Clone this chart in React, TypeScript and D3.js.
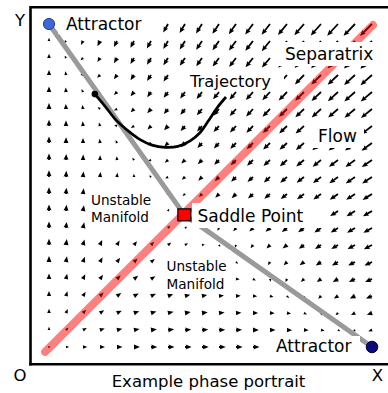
import React from "react";
import * as d3 from "d3";

// ---- data ----
// Competitive Lotka-Volterra system: x' = x(1 - x - ALPHA*y), y' = y(1 - y - BETA*x)
const ALPHA = 1.42;
const BETA = 1.41;
const GRID_STEPS = d3.range(20).map((i) => i / 19);
const ATTRACTORS = [
  [0, 1],
  [1, 0],
];
const SADDLE = [(1 - ALPHA) / (1 - ALPHA * BETA), (1 - BETA) / (1 - ALPHA * BETA)];
const SEPARATRIX = [
  [-0.012, -0.015],
  [1.003, 0.997],
];
const TRAJECTORY = [
  [0.142, 0.783],
  [0.173, 0.746],
  [0.207, 0.703],
  [0.245, 0.669],
  [0.282, 0.642],
  [0.319, 0.625],
  [0.359, 0.618],
  [0.399, 0.621],
  [0.437, 0.638],
  [0.468, 0.664],
  [0.492, 0.698],
  [0.52, 0.74],
  [0.548, 0.774],
];
const LABEL_TEXTS = [
  "Attractor",
  "Trajectory",
  "Separatrix",
  "Flow",
  "Saddle Point",
  "Unstable|Manifold",
  "Unstable|Manifold",
  "Attractor",
];
const AXIS_TEXTS = ["Y", "O", "X", "Example phase portrait"];

// ---- layout ----
const W = 388;
const H = 393;
const FONT = "DejaVu Sans, Verdana, sans-serif";
const LABEL_LAYOUT = [
  { x: 66, y: 30, size: 17, box: [58, 13, 160, 34] },
  { x: 190, y: 86.7, size: 16.4, box: [180, 69, 284, 90] },
  { x: 285, y: 59.5, size: 17, box: [277, 42, 390, 66] },
  { x: 318, y: 142, size: 17, box: [306, 118, 364, 148] },
  { x: 197.5, y: 222, size: 17, box: [192, 203, 328, 228] },
  { x: 91, y: 205, size: 13.6, lh: 17, box: [88, 181, 157, 232] },
  { x: 166.5, y: 271, size: 13.6, lh: 17.5, box: [160, 250, 231, 293] },
  { x: 276, y: 352.3, size: 17, box: [268, 336, 360, 360] },
];

function field(x: number, y: number) {
  return [x * (1 - x - ALPHA * y), y * (1 - y - BETA * x)];
}

export default function App() {
  const sx = d3.scaleLinear().domain([0, 1]).range([49, 372]);
  const sy = d3.scaleLinear().domain([0, 1]).range([347, 24]);
  const lenScale = d3.scalePow().exponent(0.45).domain([0, 2]).range([0, 17]);

  const sw = 1.8,
    hw = 5.0,
    hl = 6.0,
    hal = 5.3;

  const arrows: React.ReactNode[] = [];
  GRID_STEPS.forEach((gx, i) => {
    GRID_STEPS.forEach((gy, j) => {
      const [vx, vy] = field(gx, gy);
      const m = Math.hypot(vx, vy);
      const L = lenScale(m);
      const px = sx(gx);
      const py = sy(gy);
      const ang = (Math.atan2(-vy, vx) * 180) / Math.PI;
      let pts: number[][];
      if (L < 1.4) {
        arrows.push(<circle key={`a${i}-${j}`} cx={px} cy={py} r={0.9} fill="#000" />);
        return;
      } else if (L < hl) {
        const s = Math.max(L / hl, 0.5);
        pts = [
          [0, (-hw * s) / 2],
          [L, 0],
          [0, (hw * s) / 2],
        ];
      } else {
        pts = [
          [0, -sw / 2],
          [L - hal, -sw / 2],
          [L - hl, -hw / 2],
          [L, 0],
          [L - hl, hw / 2],
          [L - hal, sw / 2],
          [0, sw / 2],
        ];
      }
      arrows.push(
        <polygon
          key={`a${i}-${j}`}
          points={pts.map((p) => p.join(",")).join(" ")}
          transform={`translate(${px},${py}) rotate(${ang})`}
          fill="#000"
        />
      );
    });
  });

  const line = d3
    .line<number[]>()
    .x((d) => sx(d[0]))
    .y((d) => sy(d[1]));
  const trajLine = d3
    .line<number[]>()
    .x((d) => sx(d[0]))
    .y((d) => sy(d[1]))
    .curve(d3.curveCatmullRom);

  const manifold = [ATTRACTORS[0], SADDLE, ATTRACTORS[1]];

  return (
    <svg
      width={W}
      height={H}
      style={{ position: "absolute", left: 0, top: 0, background: "#fff" }}
      fontFamily={FONT}
    >
      <rect x={0} y={0} width={W} height={H} fill="#fff" />
      {arrows}
      <path
        d={line(SEPARATRIX) || ""}
        stroke="rgb(255,0,0)"
        strokeOpacity={0.5}
        strokeWidth={8}
        strokeLinecap="round"
        fill="none"
      />
      <path
        d={line(manifold) || ""}
        stroke="#9a9a9a"
        strokeWidth={5}
        fill="none"
        strokeLinejoin="round"
      />
      <path d={trajLine(TRAJECTORY) || ""} stroke="#000" strokeWidth={2.7} fill="none" />
      {LABEL_TEXTS.map((t, k) => {
        const L = LABEL_LAYOUT[k];
        const [x0, y0, x1, y1] = L.box;
        const lines = t.split("|");
        return (
          <g key={`l${k}`}>
            <rect x={x0} y={y0} width={x1 - x0} height={y1 - y0} fill="#fff" />
            {lines.map((s, n) => (
              <text key={n} x={L.x} y={L.y + n * (L.lh || 0)} fontSize={L.size} fill="#000">
                {s}
              </text>
            ))}
          </g>
        );
      })}
      <circle cx={sx(TRAJECTORY[0][0])} cy={sy(TRAJECTORY[0][1])} r={3.3} fill="#000" />
      <rect
        x={sx(SADDLE[0]) - 6.5}
        y={sy(SADDLE[1]) - 6}
        width={13}
        height={12}
        fill="#ff0000"
        stroke="#000"
        strokeWidth={1.2}
      />
      <circle
        cx={sx(ATTRACTORS[0][0])}
        cy={sy(ATTRACTORS[0][1])}
        r={5.6}
        fill="#3d68d8"
        stroke="#23408f"
        strokeWidth={1}
      />
      <circle
        cx={sx(ATTRACTORS[1][0])}
        cy={sy(ATTRACTORS[1][1])}
        r={5.8}
        fill="#0a0a78"
        stroke="#00004a"
        strokeWidth={1}
      />
      {/* frame */}
      <path d="M30.5,365.5 V7.3 H390" stroke="#000" strokeWidth={2.6} fill="none" />
      <path d="M29.2,364.3 H390" stroke="#000" strokeWidth={2.6} fill="none" />
      <text x={20} y={26} fontSize={16.5} textAnchor="middle">
        {AXIS_TEXTS[0]}
      </text>
      <text x={20} y={381} fontSize={16.5} textAnchor="middle">
        {AXIS_TEXTS[1]}
      </text>
      <text x={377.3} y={381} fontSize={16.5} textAnchor="middle">
        {AXIS_TEXTS[2]}
      </text>
      <text x={111.7} y={386.5} fontSize={16.5}>
        {AXIS_TEXTS[3]}
      </text>
    </svg>
  );
}
